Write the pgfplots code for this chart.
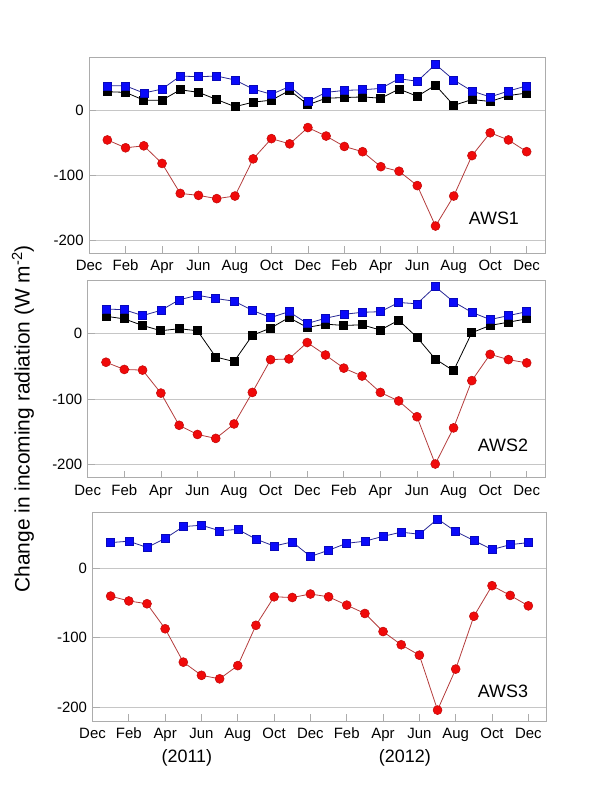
\documentclass[border=0pt]{standalone}
\usepackage{pgfplots}
\pgfplotsset{compat=1.18}
\usepackage{fontspec}
\setmainfont{Liberation Sans}
\definecolor{mblue}{RGB}{10,10,250}
\definecolor{lblue}{RGB}{40,40,150}
\definecolor{mred}{RGB}{240,10,10}
\definecolor{lred}{RGB}{180,60,60}
\tikzset{awslab/.style={font=\fontsize{18}{21}\selectfont}}
\pgfplotsset{
  aws/.style={
    scale only axis, clip=false,
    xmin=0, xmax=25, ymin=-220, ymax=80,
    xtick={0,2,...,24},
    xticklabels={Dec,Feb,Apr,Jun,Aug,Oct,Dec,Feb,Apr,Jun,Aug,Oct,Dec},
    ytick={-200,-100,0}, yticklabels={-200,-100,0},
    ymajorgrids, grid style={gray!45, line width=0.7bp},
    axis line style={gray!65, line width=0.7bp},
    xtick pos=bottom, ytick pos=left,
    tick align=inside, major tick length=7bp,
    tick style={gray!65, line width=0.7bp},
    tick label style={font=\fontsize{15}{18}\selectfont},
    xticklabel style={yshift=-3bp, text height=11bp, text depth=3bp},
    yticklabel style={xshift=-2bp},
  },
  sblue/.style={lblue, line width=0.8bp, mark=square*, mark size=4bp,
    mark options={fill=mblue, draw=mblue!75!black, line width=0.5bp}},
  sblack/.style={black, line width=0.8bp, mark=square*, mark size=4bp,
    mark options={fill=black, draw=black}},
  sred/.style={lred, line width=0.8bp, mark=*, mark size=4.5bp,
    mark options={fill=mred, draw=mred!80!black, line width=0.5bp}},
}
\begin{document}
\begin{tikzpicture}
\path[use as bounding box] (0,0) rectangle (600bp,-800bp);
% Panel 1
\begin{axis}[aws, at={(89.1bp,-57.8bp)}, anchor=north west, width=455.8bp, height=195.6bp]
\addplot[sblack] coordinates {(1,28)(2,27)(3,15)(4,15)(5,31)(6,27)(7,16)(8,5)(9,12)(10,15)(11,30)(12,8)(13,18)(14,19)(15,20)(16,18)(17,32)(18,21)(19,38)(20,7)(21,16)(22,13)(23,22)(24,26)};
\addplot[sblue] coordinates {(1,37)(2,37)(3,26)(4,32)(5,52)(6,51)(7,52)(8,46)(9,32)(10,24)(11,36)(12,13)(13,27)(14,30)(15,31)(16,33)(17,48)(18,44)(19,70)(20,46)(21,29)(22,20)(23,29)(24,37)};
\addplot[sred] coordinates {(1,-46)(2,-58)(3,-55)(4,-82)(5,-128)(6,-131)(7,-136)(8,-132)(9,-75)(10,-44)(11,-52)(12,-27)(13,-40)(14,-56)(15,-64)(16,-87)(17,-94)(18,-116)(19,-178)(20,-132)(21,-70)(22,-35)(23,-46)(24,-64)};
\node[awslab] at (axis cs:22.2,-165.6) {AWS1};
\end{axis}
% Panel 2
\begin{axis}[aws, at={(87.7bp,-280.8bp)}, anchor=north west, width=457.3bp, height=197bp]
\addplot[sblack] coordinates {(1,26)(2,22)(3,12)(4,4)(5,7)(6,4)(7,-36)(8,-43)(9,-3)(10,8)(11,24)(12,9)(13,14)(14,12)(15,13)(16,5)(17,20)(18,-6)(19,-39)(20,-57)(21,1)(22,12)(23,17)(24,22)};
\addplot[sblue] coordinates {(1,37)(2,36)(3,27)(4,35)(5,51)(6,58)(7,53)(8,49)(9,35)(10,24)(11,33)(12,15)(13,23)(14,29)(15,32)(16,33)(17,47)(18,45)(19,71)(20,48)(21,32)(22,21)(23,27)(24,33)};
\addplot[sred] coordinates {(1,-44)(2,-55)(3,-56)(4,-91)(5,-140)(6,-154)(7,-160)(8,-138)(9,-90)(10,-40)(11,-39)(12,-14)(13,-33)(14,-53)(15,-65)(16,-90)(17,-103)(18,-127)(19,-199)(20,-144)(21,-72)(22,-32)(23,-40)(24,-45)};
\node[awslab] at (axis cs:22.7,-170) {AWS2};
\end{axis}
% Panel 3
\begin{axis}[aws, at={(92.5bp,-512.7bp)}, anchor=north west, width=454bp, height=208.5bp]
\addplot[sblue] coordinates {(1,37)(2,39)(3,30)(4,43)(5,60)(6,62)(7,54)(8,56)(9,42)(10,32)(11,38)(12,17)(13,26)(14,36)(15,39)(16,46)(17,52)(18,49)(19,71)(20,53)(21,40)(22,27)(23,34)(24,37)};
\addplot[sred] coordinates {(1,-40)(2,-47)(3,-51)(4,-87)(5,-135)(6,-154)(7,-159)(8,-140)(9,-82)(10,-41)(11,-42)(12,-37)(13,-41)(14,-53)(15,-65)(16,-91)(17,-110)(18,-125)(19,-204)(20,-145)(21,-69)(22,-25)(23,-39)(24,-54)};
\node[awslab] at (axis cs:22.6,-177.5) {AWS3};
\node[awslab] at (axis cs:5.2,-273) {(2011)};
\node[awslab] at (axis cs:17.2,-273) {(2012)};
\end{axis}
\node[rotate=90, font=\fontsize{21}{25}\selectfont] at (23bp,-419bp) {Change in incoming radiation (W m\textsuperscript{-2})};
\end{tikzpicture}
\end{document}
